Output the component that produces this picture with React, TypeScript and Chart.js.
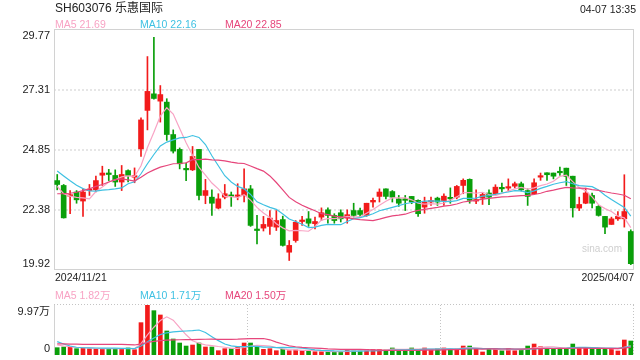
import React, { useEffect, useRef } from 'react';
import { Chart, registerables } from 'chart.js';

Chart.register(...registerables);

const FONT = 'Arial, "Liberation Sans", "Noto Sans CJK SC", sans-serif';

const dates = [
  '2024/11/21', '2024/11/22', '2024/11/25', '2024/11/26', '2024/11/27', '2024/11/28', '2024/11/29',
  '2024/12/02', '2024/12/03', '2024/12/04', '2024/12/05', '2024/12/06', '2024/12/09', '2024/12/10',
  '2024/12/11', '2024/12/12', '2024/12/13', '2024/12/16', '2024/12/17', '2024/12/18', '2024/12/19',
  '2024/12/20', '2024/12/23', '2024/12/24', '2024/12/25', '2024/12/26', '2024/12/27', '2024/12/30',
  '2024/12/31', '2025/01/02', '2025/01/03', '2025/01/06', '2025/01/07', '2025/01/08', '2025/01/09',
  '2025/01/10', '2025/01/13', '2025/01/14', '2025/01/15', '2025/01/16', '2025/01/17', '2025/01/20',
  '2025/01/21', '2025/01/22', '2025/01/23', '2025/01/24', '2025/01/27', '2025/02/05', '2025/02/06',
  '2025/02/07', '2025/02/10', '2025/02/11', '2025/02/12', '2025/02/13', '2025/02/14', '2025/02/17',
  '2025/02/18', '2025/02/19', '2025/02/20', '2025/02/21', '2025/02/24', '2025/02/25', '2025/02/26',
  '2025/02/27', '2025/02/28', '2025/03/03', '2025/03/04', '2025/03/05', '2025/03/06', '2025/03/07',
  '2025/03/10', '2025/03/11', '2025/03/12', '2025/03/13', '2025/03/14', '2025/03/17', '2025/03/18',
  '2025/03/19', '2025/03/20', '2025/03/21', '2025/03/24', '2025/03/25', '2025/03/26', '2025/03/27',
  '2025/03/28', '2025/03/31', '2025/04/01', '2025/04/02', '2025/04/03', '2025/04/07',
];

const openP = [
  23.59, 23.39, 22.95, 23.12, 22.75, 23.18, 23.21, 23.81, 23.87, 23.80,
  23.53, 24.00, 23.73, 24.89, 26.47, 27.15, 26.85, 26.81, 25.48, 24.87,
  24.07, 24.03, 24.87, 22.98, 22.91, 22.46, 22.91, 22.98, 22.94, 22.98,
  23.25, 21.58, 21.64, 21.71, 21.68, 21.99, 20.65, 21.13, 21.91, 22.02,
  21.82, 22.09, 22.39, 22.16, 22.27, 22.05, 22.36, 22.36, 22.16, 22.71,
  22.94, 23.25, 23.14, 22.84, 22.80, 22.94, 22.78, 22.50, 22.71, 22.87,
  22.77, 22.88, 22.91, 23.39, 23.64, 22.75, 22.87, 23.08, 23.05, 23.28,
  23.28, 23.36, 23.46, 23.18, 23.05, 23.73, 23.91, 23.90, 23.96, 24.10,
  23.77, 22.46, 22.66, 22.98, 22.53, 22.12, 21.79, 22.02, 22.02, 21.50,
];
const highP = [
  23.84, 23.43, 23.18, 23.18, 23.25, 23.43, 23.77, 24.18, 24.05, 24.03,
  24.21, 24.03, 24.11, 26.17, 28.68, 29.47, 27.49, 26.95, 25.67, 24.93,
  24.31, 24.99, 24.87, 23.64, 23.21, 23.05, 23.43, 23.12, 23.46, 24.07,
  23.39, 22.16, 22.12, 22.36, 22.36, 22.13, 21.13, 21.95, 22.12, 22.32,
  22.09, 22.47, 22.47, 22.23, 22.39, 22.39, 22.66, 22.46, 22.66, 22.87,
  23.25, 23.25, 23.18, 22.98, 22.98, 22.94, 22.80, 22.91, 22.91, 22.91,
  23.05, 23.29, 23.39, 23.66, 23.66, 23.21, 23.08, 23.21, 23.42, 23.49,
  23.66, 23.53, 23.53, 23.25, 23.66, 23.90, 23.91, 23.90, 24.14, 24.10,
  23.77, 22.91, 23.28, 23.08, 22.57, 22.12, 22.09, 22.32, 23.83, 21.57,
];
const lowP = [
  23.21, 22.05, 22.23, 22.66, 22.12, 22.98, 23.12, 23.39, 23.59, 23.35,
  23.18, 23.53, 23.50, 24.58, 25.67, 26.93, 25.99, 25.24, 24.72, 24.07,
  23.59, 24.00, 22.80, 22.64, 22.16, 22.43, 22.84, 22.53, 22.80, 22.71,
  21.71, 20.99, 21.52, 21.38, 21.54, 20.90, 20.31, 21.06, 21.75, 21.71,
  21.61, 21.95, 21.84, 21.84, 21.89, 21.84, 22.09, 22.09, 22.12, 22.50,
  22.71, 22.84, 22.71, 22.53, 22.36, 22.64, 22.12, 22.25, 22.57, 22.57,
  22.57, 22.66, 22.84, 23.05, 22.66, 22.64, 22.61, 22.60, 23.02, 23.12,
  23.16, 23.29, 23.16, 22.57, 23.02, 23.60, 23.60, 23.66, 23.80, 23.39,
  22.09, 22.36, 22.64, 22.47, 22.13, 21.41, 21.79, 21.95, 21.68, 20.14,
];
const closeP = [
  23.43, 22.06, 22.98, 22.80, 23.12, 23.22, 23.59, 23.90, 23.84, 23.53,
  23.84, 23.80, 23.77, 26.08, 27.25, 26.96, 27.12, 25.48, 24.80, 24.28,
  24.03, 24.58, 22.98, 23.18, 22.66, 22.84, 23.05, 22.94, 22.98, 23.25,
  21.75, 21.54, 21.79, 22.05, 21.95, 20.93, 20.93, 21.88, 21.95, 21.84,
  21.91, 22.27, 22.16, 21.95, 22.02, 22.19, 22.16, 22.20, 22.66, 22.78,
  23.12, 22.94, 22.91, 22.66, 22.78, 22.71, 22.23, 22.71, 22.75, 22.71,
  22.95, 22.84, 23.35, 23.60, 22.78, 22.80, 23.02, 22.91, 23.32, 23.25,
  23.32, 23.46, 23.21, 22.94, 23.50, 23.77, 23.83, 23.77, 23.91, 23.76,
  22.47, 22.61, 23.08, 22.66, 22.16, 21.68, 22.02, 22.12, 22.32, 20.18,
];
const ma5 = [
  23.35, 23.05, 22.95, 22.90, 22.88, 22.84, 23.14, 23.33, 23.53, 23.62,
  23.74, 23.78, 23.76, 24.20, 24.95, 25.57, 26.24, 26.58, 26.32, 25.73,
  25.14, 24.63, 24.13, 23.81, 23.49, 23.25, 22.94, 22.93, 22.89, 23.01,
  22.79, 22.49, 22.26, 22.08, 21.82, 21.65, 21.53, 21.55, 21.53, 21.51,
  21.70, 21.97, 22.03, 22.03, 22.06, 22.12, 22.10, 22.10, 22.25, 22.40,
  22.58, 22.74, 22.88, 22.88, 22.88, 22.80, 22.66, 22.62, 22.64, 22.62,
  22.67, 22.79, 22.92, 23.09, 23.10, 23.07, 23.11, 23.02, 22.97, 23.06,
  23.16, 23.25, 23.31, 23.24, 23.29, 23.38, 23.45, 23.56, 23.76, 23.81,
  23.55, 23.30, 23.17, 22.92, 22.60, 22.44, 22.32, 22.13, 22.06, 21.66,
];
const ma10 = [
  23.98, 23.78, 23.58, 23.40, 23.26, 23.17, 23.16, 23.20, 23.22, 23.25,
  23.29, 23.46, 23.54, 23.87, 24.28, 24.66, 25.01, 25.17, 25.26, 25.34,
  25.36, 25.44, 25.36, 25.07, 24.61, 24.20, 23.79, 23.53, 23.35, 23.25,
  23.02, 22.72, 22.60, 22.49, 22.41, 22.22, 22.01, 21.91, 21.80, 21.66,
  21.68, 21.75, 21.79, 21.78, 21.78, 21.91, 22.03, 22.07, 22.14, 22.23,
  22.35, 22.42, 22.49, 22.56, 22.64, 22.69, 22.70, 22.75, 22.76, 22.75,
  22.74, 22.73, 22.77, 22.86, 22.86, 22.87, 22.95, 22.97, 23.03, 23.08,
  23.12, 23.18, 23.17, 23.10, 23.17, 23.27, 23.35, 23.44, 23.50, 23.55,
  23.46, 23.38, 23.36, 23.34, 23.20, 22.99, 22.81, 22.65, 22.49, 22.13,
];
const ma20 = [
  23.05, 23.05, 23.07, 23.11, 23.18, 23.25, 23.35, 23.43, 23.53, 23.63,
  23.66, 23.62, 23.57, 23.73, 23.90, 24.03, 24.14, 24.21, 24.28, 24.29,
  24.32, 24.45, 24.45, 24.47, 24.44, 24.43, 24.40, 24.35, 24.31, 24.29,
  24.19, 24.08, 23.98, 23.78, 23.51, 23.21, 22.90, 22.72, 22.58, 22.46,
  22.35, 22.23, 22.19, 22.13, 22.10, 22.07, 22.02, 21.99, 21.97, 21.95,
  22.01, 22.08, 22.14, 22.17, 22.21, 22.30, 22.37, 22.41, 22.45, 22.49,
  22.54, 22.57, 22.63, 22.71, 22.75, 22.78, 22.83, 22.86, 22.89, 22.92,
  22.93, 22.95, 22.97, 22.98, 23.02, 23.07, 23.15, 23.20, 23.26, 23.31,
  23.29, 23.28, 23.27, 23.22, 23.19, 23.13, 23.08, 23.04, 22.99, 22.84,
];

// volume in 万 (10k) units
const volume = [
  1.46, 1.60, 1.53, 1.26, 1.40, 1.26, 1.26, 1.26, 1.26, 1.26,
  1.26, 1.40, 1.06, 6.45, 9.97, 8.84, 7.98, 4.79, 3.19, 2.39,
  1.79, 1.99, 2.39, 1.60, 1.60, 0.86, 1.26, 1.26, 1.66, 2.39,
  2.39, 1.79, 1.13, 1.26, 0.86, 1.13, 0.86, 1.00, 0.86, 0.86,
  0.66, 0.66, 0.66, 0.60, 0.66, 1.13, 0.80, 0.80, 1.13, 1.13,
  1.13, 1.00, 1.40, 1.00, 1.00, 1.40, 1.00, 1.40, 1.13, 1.26,
  1.40, 1.13, 1.26, 1.79, 1.79, 1.13, 0.60, 1.13, 1.26, 0.86,
  1.26, 0.86, 1.13, 1.79, 2.19, 1.66, 1.26, 1.13, 1.26, 1.26,
  2.19, 1.40, 1.40, 1.26, 1.26, 1.26, 1.26, 0.80, 2.99, 2.79,
];
const vma5 = [
  2.00, 1.80, 1.65, 1.50, 1.45, 1.41, 1.34, 1.29, 1.29, 1.26,
  1.26, 1.29, 1.25, 2.29, 4.03, 5.54, 6.86, 7.61, 6.95, 5.44,
  4.03, 2.83, 2.35, 2.03, 1.87, 1.69, 1.54, 1.32, 1.33, 1.49,
  1.79, 1.90, 1.87, 1.79, 1.49, 1.23, 1.05, 1.02, 0.94, 0.94,
  0.85, 0.81, 0.74, 0.69, 0.65, 0.74, 0.77, 0.80, 0.90, 1.00,
  1.00, 1.04, 1.16, 1.13, 1.11, 1.16, 1.16, 1.16, 1.19, 1.24,
  1.24, 1.26, 1.24, 1.37, 1.47, 1.42, 1.31, 1.29, 1.18, 1.00,
  1.02, 1.07, 1.07, 1.18, 1.45, 1.53, 1.61, 1.61, 1.50, 1.31,
  1.42, 1.45, 1.50, 1.50, 1.50, 1.32, 1.29, 1.17, 1.51, 1.82,
];
const vma10 = [
  2.66, 2.20, 1.80, 1.55, 1.45, 1.42, 1.40, 1.38, 1.37, 1.36,
  1.34, 1.32, 1.27, 1.79, 2.64, 3.40, 4.07, 4.43, 4.62, 4.73,
  4.79, 4.85, 4.98, 4.49, 3.66, 2.86, 2.19, 1.83, 1.68, 1.68,
  1.74, 1.72, 1.59, 1.56, 1.49, 1.51, 1.47, 1.45, 1.37, 1.21,
  1.04, 0.93, 0.88, 0.82, 0.80, 0.80, 0.79, 0.77, 0.80, 0.82,
  0.87, 0.90, 0.98, 1.02, 1.05, 1.08, 1.10, 1.16, 1.16, 1.17,
  1.20, 1.21, 1.20, 1.28, 1.36, 1.33, 1.29, 1.26, 1.28, 1.24,
  1.22, 1.19, 1.18, 1.18, 1.22, 1.27, 1.34, 1.34, 1.34, 1.38,
  1.47, 1.53, 1.55, 1.50, 1.41, 1.37, 1.37, 1.34, 1.51, 1.66,
];
const vma20 = [
  2.20, 2.20, 2.15, 2.15, 2.10, 2.10, 2.10, 2.10, 2.10, 2.10,
  2.10, 2.05, 2.00, 2.20, 2.50, 2.70, 2.85, 2.95, 3.00, 3.04,
  3.06, 3.08, 3.12, 3.14, 3.15, 3.13, 3.13, 3.13, 3.15, 3.21,
  3.26, 3.28, 3.29, 3.03, 2.57, 2.19, 1.83, 1.64, 1.52, 1.45,
  1.39, 1.32, 1.24, 1.19, 1.14, 1.15, 1.13, 1.11, 1.08, 1.02,
  0.96, 0.92, 0.93, 0.92, 0.92, 0.94, 0.94, 0.96, 0.98, 1.00,
  1.03, 1.06, 1.09, 1.15, 1.20, 1.20, 1.19, 1.21, 1.22, 1.20,
  1.21, 1.20, 1.19, 1.23, 1.29, 1.30, 1.31, 1.30, 1.31, 1.31,
  1.35, 1.36, 1.37, 1.34, 1.31, 1.32, 1.35, 1.34, 1.42, 1.52,
];

const priceTicks = [29.77, 27.31, 24.85, 22.38, 19.92];
const priceTickLabels = ['29.77', '27.31', '24.85', '22.38', '19.92'];
const volTicks = [9.97, 0];
const volTickLabels = ['9.97万', '0'];

const RED = '#f21b1b';
const GREEN = '#0a9f0a';
const C_MA5 = '#f8a3c4';
const C_MA10 = '#3fc1e2';
const C_MA20 = '#e6467b';

const candleColors = closeP.map((c, i) => (c >= openP[i] ? RED : GREEN));

const pricePlugin = {
  id: 'priceDecor',
  beforeDatasetsDraw(chart: any) {
    const { ctx, chartArea: a, scales } = chart;
    const y = scales.y;
    ctx.save();
    ctx.lineWidth = 2;
    ctx.strokeStyle = '#e6e6e6';
    ctx.setLineDash([2, 2]);
    priceTicks.forEach((v, k) => {
      if (k === 0 || k === priceTicks.length - 1) return;
      const py = Math.round(y.getPixelForValue(v));
      ctx.beginPath();
      ctx.moveTo(a.left, py);
      ctx.lineTo(a.right, py);
      ctx.stroke();
    });
    ctx.setLineDash([]);
    ctx.lineWidth = 1;
    ctx.strokeStyle = '#d2d2d2';
    ctx.strokeRect(a.left + 0.5, a.top - 0.5, a.right - a.left - 1, a.bottom - a.top);
    ctx.restore();
  },
  afterDraw(chart: any) {
    const { ctx, chartArea: a, scales } = chart;
    const y = scales.y;
    ctx.save();
    ctx.font = '11px ' + FONT;
    ctx.fillStyle = '#222';
    ctx.textAlign = 'right';
    ctx.textBaseline = 'middle';
    priceTicks.forEach((v, k) => {
      let py = y.getPixelForValue(v);
      if (k === 0) py += 5.5;
      if (k === priceTicks.length - 1) py -= 6;
      ctx.fillText(priceTickLabels[k], a.left - 4, py);
    });
    ctx.restore();
  },
};

const volPlugin = {
  id: 'volDecor',
  beforeDatasetsDraw(chart: any) {
    const { ctx, chartArea: a } = chart;
    ctx.save();
    ctx.lineWidth = 1;
    ctx.strokeStyle = '#d2d2d2';
    ctx.beginPath();
    ctx.moveTo(a.left + 0.5, a.top - 0.5);
    ctx.lineTo(a.left + 0.5, a.bottom);
    ctx.stroke();
    ctx.strokeStyle = '#c4c4c4';
    ctx.setLineDash([1, 2]);
    ctx.beginPath();
    ctx.moveTo(a.left, a.top - 0.5);
    ctx.lineTo(a.right, a.top - 0.5);
    ctx.stroke();
    const w = a.right - a.left;
    [a.left + w / 3, a.left + (2 * w) / 3, a.right - 0.5].forEach((x) => {
      const px = Math.round(x - 0.5) + 0.5;
      ctx.beginPath();
      ctx.moveTo(px, a.top);
      ctx.lineTo(px, a.bottom);
      ctx.stroke();
    });
    ctx.restore();
  },
  afterDraw(chart: any) {
    const { ctx, chartArea: a, scales } = chart;
    const y = scales.y;
    ctx.save();
    ctx.font = '11px ' + FONT;
    ctx.fillStyle = '#222';
    ctx.textAlign = 'right';
    ctx.textBaseline = 'middle';
    volTicks.forEach((v, k) => {
      let py = y.getPixelForValue(v);
      if (k === 0) py += 7;
      else py -= 6.5;
      ctx.fillText(volTickLabels[k], a.left - 4, py);
    });
    ctx.restore();
  },
};

const maLine = (label: string, data: number[], color: string) => ({
  type: 'line' as const,
  label,
  data,
  borderColor: color,
  borderWidth: 1.2,
  pointRadius: 0,
  tension: 0,
  fill: false,
  order: 0,
});

export default function App() {
  const priceRef = useRef<HTMLCanvasElement>(null);
  const volRef = useRef<HTMLCanvasElement>(null);

  useEffect(() => {
    Chart.defaults.font.family = FONT;
    const priceChart = new Chart(priceRef.current as HTMLCanvasElement, {
      type: 'bar',
      data: {
        labels: dates,
        datasets: [
          {
            type: 'bar',
            label: 'wick',
            data: lowP.map((l, i) => [l, highP[i]]) as any,
            backgroundColor: candleColors,
            barThickness: 1,
            grouped: false,
            order: 2,
          },
          {
            type: 'bar',
            label: 'body',
            data: openP.map((o, i) => [o, closeP[i]]) as any,
            backgroundColor: candleColors,
            barThickness: 5,
            minBarLength: 1.5,
            grouped: false,
            order: 1,
          },
          maLine('MA20', ma20, C_MA20),
          maLine('MA10', ma10, C_MA10),
          maLine('MA5', ma5, C_MA5),
        ] as any,
      },
      options: {
        responsive: false,
        animation: false,
        events: [],
        layout: { padding: { left: 54, right: 6, top: 30, bottom: 5 } },
        plugins: { legend: { display: false }, tooltip: { enabled: false } },
        scales: {
          x: { type: 'category', display: false, offset: true },
          y: { type: 'linear', display: false, min: 19.92, max: 29.77 },
        },
      },
      plugins: [pricePlugin],
    });

    const volChart = new Chart(volRef.current as HTMLCanvasElement, {
      type: 'bar',
      data: {
        labels: dates,
        datasets: [
          {
            type: 'bar',
            label: 'VOL',
            data: volume,
            backgroundColor: candleColors,
            barThickness: 4,
            order: 1,
          },
          maLine('VMA20', vma20, C_MA20),
          maLine('VMA10', vma10, C_MA10),
          maLine('VMA5', vma5, C_MA5),
        ] as any,
      },
      options: {
        responsive: false,
        animation: false,
        events: [],
        layout: { padding: { left: 54, right: 6, top: 35, bottom: 5 } },
        plugins: { legend: { display: false }, tooltip: { enabled: false } },
        scales: {
          x: { type: 'category', display: false, offset: true },
          y: { type: 'linear', display: false, min: 0, max: 9.97 },
        },
      },
      plugins: [volPlugin],
    });

    return () => {
      priceChart.destroy();
      volChart.destroy();
    };
  }, []);

  const t = (style: React.CSSProperties): React.CSSProperties => ({
    position: 'absolute',
    whiteSpace: 'nowrap',
    fontFamily: FONT,
    fontSize: '10.5px',
    lineHeight: '12px',
    ...style,
  });

  return (
    <div style={{ position: 'absolute', left: 0, top: 0, width: 640, height: 360, background: '#fff', overflow: 'hidden' }}>
      <canvas ref={priceRef} width={640} height={275} style={{ position: 'absolute', left: 0, top: 0 }} />
      <canvas ref={volRef} width={640} height={90} style={{ position: 'absolute', left: 0, top: 270 }} />

      <div style={t({ left: 55, top: 2, fontSize: '12px', lineHeight: '13px', color: '#222' })}>SH603076 乐惠国际</div>
      <div style={t({ right: 4, top: 3, color: '#222' })}>04-07 13:35</div>

      <div style={t({ left: 55, top: 18, color: C_MA5 })}>MA5 21.69</div>
      <div style={t({ left: 140, top: 18, color: C_MA10 })}>MA10 22.16</div>
      <div style={t({ left: 225, top: 18, color: C_MA20 })}>MA20 22.85</div>

      <div style={t({ left: 582, top: 243, fontSize: '10px', color: '#cfcfcf' })}>sina.com</div>

      <div style={t({ left: 55, top: 271, color: '#222' })}>2024/11/21</div>
      <div style={t({ right: 6, top: 271, color: '#222' })}>2025/04/07</div>

      <div style={t({ left: 55, top: 289, color: C_MA5 })}>MA5 1.82万</div>
      <div style={t({ left: 140, top: 289, color: C_MA10 })}>MA10 1.71万</div>
      <div style={t({ left: 225, top: 289, color: C_MA20 })}>MA20 1.50万</div>
    </div>
  );
}
